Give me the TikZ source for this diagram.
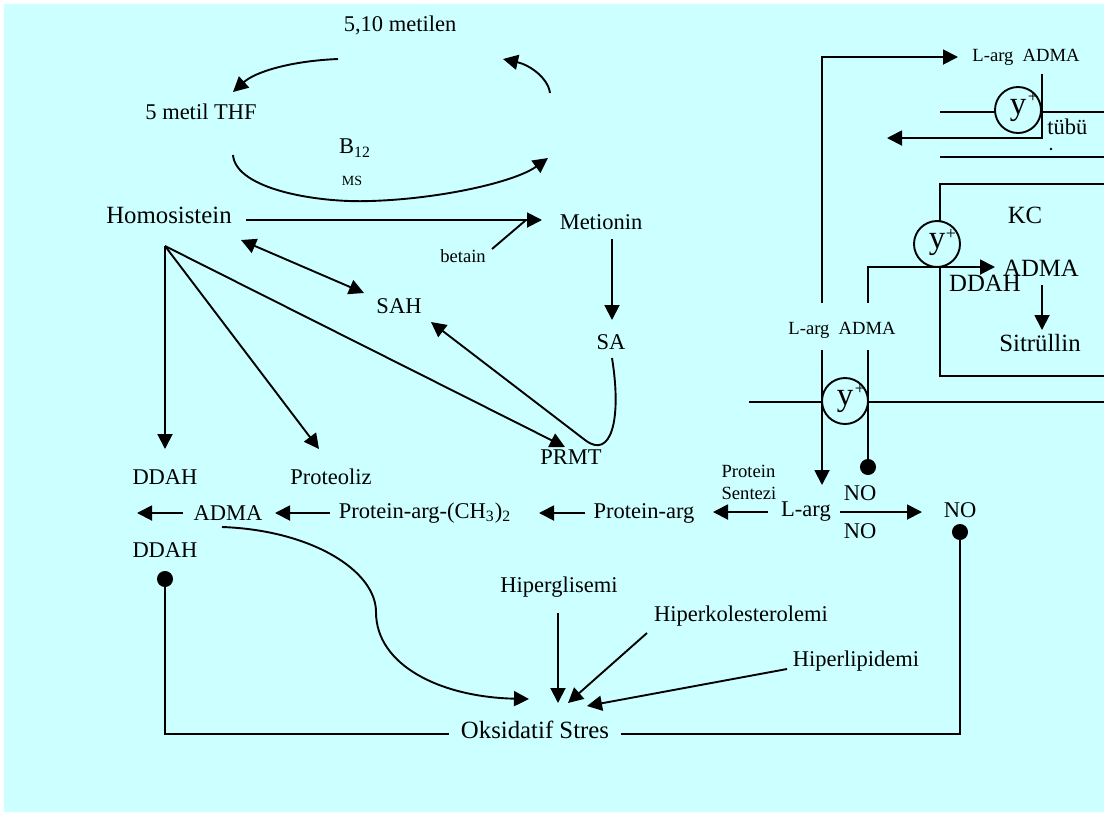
\documentclass[tikz,border=0pt]{standalone}
\usepackage{fontspec}
\setmainfont{Liberation Serif}
\usetikzlibrary{arrows.meta}
\definecolor{bgc}{HTML}{CCFFFF}
\begin{document}
\begin{tikzpicture}[x=0.5pt,y=-0.5pt,
  t/.style={inner sep=0pt, font=\fontsize{11.25}{13}\selectfont},
  tl/.style={inner sep=0pt, font=\fontsize{12.4}{14}\selectfont},
  ts/.style={inner sep=0pt, font=\fontsize{9.3}{11}\selectfont},
  tx/.style={inner sep=0pt, font=\fontsize{7}{8}\selectfont},
  ln/.style={line width=0.95pt},
  arr/.style={ln,-{Triangle[length=7.5pt,width=7.5pt]}},
  barr/.style={ln,{Triangle[length=7.5pt,width=7.5pt]}-{Triangle[length=7.5pt,width=7.5pt]}},
  dotend/.style={ln,-{Circle[length=8pt]}},
  ycirc/.style={circle, draw, line width=0.95pt, fill=bgc, minimum size=23pt, inner sep=0pt, font=\fontsize{16.5}{18}\selectfont},
  plus/.style={inner sep=0pt, font=\fontsize{9}{10}\selectfont}
]
\useasboundingbox (0,0) rectangle (1104,816);
\fill[bgc] (4,4) rectangle (1104,812);

% ---------- text nodes ----------
\node[t] (metilen) at (400,25) {5,10 metilen};
\node[t] (thf) at (201,112) {5 metil THF};
\node[t] (b12) at (355,148) {B\textsubscript{12}};
\node[tx] (ms) at (352,181) {MS};
\node[tl] (homo) at (169,215) {Homosistein};
\node[t] (met) at (601,222) {Metionin};
\node[ts] (betain) at (463,256) {betain};
\node[t] (sah) at (399,306) {SAH};
\node[t] (sa) at (611,342) {SA};
\node[t] (prmt) at (571,457) {PRMT};
\node[t] (ddah1) at (165,477) {DDAH};
\node[t] (prot) at (331,477) {Proteoliz};
\node[t] (adma) at (228,513) {ADMA};
\node[t] (parg2) at (425,513) {Protein-arg-(CH\textsubscript{3})\textsubscript{2}};
\node[t] (parg) at (644,513) {Protein-arg};
\node[ts, align=left] (psent) at (749,482) {Protein\\Sentezi};
\node[t] (larg) at (806,512) {L-arg};
\node[t] (no1) at (860,493) {NO};
\node[t] (no2) at (860,531) {NO};
\node[t] (no3) at (960,510) {NO};
\node[t] (ddah2) at (165,550) {DDAH};
\node[t] (hgl) at (559,587) {Hiperglisemi};
\node[t] (hkol) at (741,616) {Hiperkolesterolemi};
\node[t] (hlip) at (856,661) {Hiperlipidemi};
\node[tl] (oks) at (535,730) {Oksidatif Stres};

\node[ts] (la1) at (1026,57) {L-arg\ \ ADMA};
\node[ts] (la2) at (842,330) {L-arg\ \ ADMA};
\node[t, anchor=west] (tubu) at (1047,127) {tübü};
\fill (1051,149) circle (1.4);
\node[tl] (kc) at (1025,215) {KC};
\node[tl] (adma2) at (1041,268) {ADMA};
\node[tl] (ddah3) at (985,283) {DDAH};
\node[tl] (sitr) at (1040,343) {Sitrüllin};

% ---------- coordinates ----------
\coordinate (root) at (165,246);
\coordinate (c1s) at (338,59);  \coordinate (c1e) at (233,92);
\coordinate (c2s) at (550,93);  \coordinate (c2e) at (503,59);
\coordinate (c3s) at (233,155); \coordinate (c3m) at (370,201); \coordinate (c3e) at (548,158);

% ---------- folate cycle ----------
\draw[arr] (c1s) .. controls (290,61) and (255,72) .. (c1e);
\draw[arr] (c2s) .. controls (548,78) and (530,65) .. (c2e);
\draw[ln] (c3s) .. controls (236,190) and (320,203) .. (c3m);
\draw[arr] (c3m) .. controls (440,199) and (515,182) .. (c3e);

% ---------- homocysteine part ----------
\coordinate (hm1) at (246,220); \coordinate (hm2) at (542,220);
\draw[arr] (hm1) -- (hm2);
\coordinate (bt1) at (492,249); \coordinate (bt2) at (526,220);
\draw[ln] (bt1) -- (bt2);
\coordinate (ms1) at (612,239); \coordinate (ms2) at (612,320);
\draw[arr] (ms1) -- (ms2);
\coordinate (hs1) at (241,240); \coordinate (hs2) at (364,293);
\draw[barr] (hs1) -- (hs2);
\coordinate (sa1) at (612,358); \coordinate (sa2) at (585,440); \coordinate (sa3) at (431,322);
\draw[arr] (sa1) .. controls (622,420) and (611,460) .. (sa2) -- (sa3);
\coordinate (rd) at (165,449); \coordinate (rp) at (319,449); \coordinate (rm) at (565,447);
\draw[arr] (root) -- (rd);
\draw[arr] (root) -- (rp);
\draw[arr] (root) -- (rm);

% ---------- main row ----------
\coordinate (a1) at (183,513); \coordinate (a1e) at (137,513);
\draw[arr] (a1) -- (a1e);
\coordinate (a2) at (330,513); \coordinate (a2e) at (275,513);
\draw[arr] (a2) -- (a2e);
\coordinate (a3) at (585,513); \coordinate (a3e) at (539,513);
\draw[arr] (a3) -- (a3e);
\coordinate (a4) at (768,512); \coordinate (a4e) at (713,512);
\draw[arr] (a4) -- (a4e);
\coordinate (a5) at (840,512); \coordinate (a5e) at (922,512);
\draw[arr] (a5) -- (a5e);

% ---------- oxidative stress ----------
\coordinate (ad1) at (222,527); \coordinate (ad2) at (376,612); \coordinate (ad3) at (529,699);
\draw[arr] (ad1) .. controls (310,530) and (376,570) .. (ad2) .. controls (376,665) and (440,697) .. (ad3);
\coordinate (hg1) at (558,613); \coordinate (hg2) at (558,703);
\draw[arr] (hg1) -- (hg2);
\coordinate (hk1) at (647,633); \coordinate (hk2) at (568,703);
\draw[arr] (hk1) -- (hk2);
\coordinate (hl1) at (787,669); \coordinate (hl2) at (587,706);
\draw[arr] (hl1) -- (hl2);
\coordinate (ol) at (449,734); \coordinate (or) at (621,734);
\coordinate (bl) at (165,734); \coordinate (blu) at (165,571);
\coordinate (br) at (960,734); \coordinate (bru) at (960,524);
\draw[dotend] (ol) -- (bl) -- (blu);
\draw[dotend] (or) -- (br) -- (bru);

% ---------- cell / membranes ----------
\draw[ln] (940,112) -- (1104,112);
\draw[ln] (940,157) -- (1104,157);
\draw[ln] (1104,184) -- (940,184) -- (940,376) -- (1104,376);
\draw[ln] (749,402) -- (1104,402);

\coordinate (t1) at (1042,74); \coordinate (t2) at (1042,138); \coordinate (t3) at (887,138);
\draw[arr] (t1) -- (t2) -- (t3);
\coordinate (l1) at (822,303); \coordinate (l2) at (822,57); \coordinate (l3) at (958,57);
\draw[arr] (l1) -- (l2) -- (l3);
\coordinate (m1) at (868,303); \coordinate (m2) at (868,267); \coordinate (m3) at (995,267);
\draw[arr] (m1) -- (m2) -- (m3);
\coordinate (v1) at (822,350); \coordinate (v1e) at (822,485);
\draw[arr] (v1) -- (v1e);
\coordinate (v2) at (868,350); \coordinate (v2e) at (868,475);
\draw[dotend] (v2) -- (v2e);
\coordinate (k1) at (1042,285); \coordinate (k2) at (1042,330);
\draw[arr] (k1) -- (k2);

% ---------- y+ transporters ----------
\node[ycirc] (y1) at (1018,110) {y};
\node[plus] (p1) at (1033,97) {+};
\node[ycirc] (y2) at (937,244) {y};
\node[plus] (p2) at (951,234) {+};
\node[ycirc] (y3) at (845,401) {y};
\node[plus] (p3) at (860,389) {+};
\end{tikzpicture}
\end{document}
